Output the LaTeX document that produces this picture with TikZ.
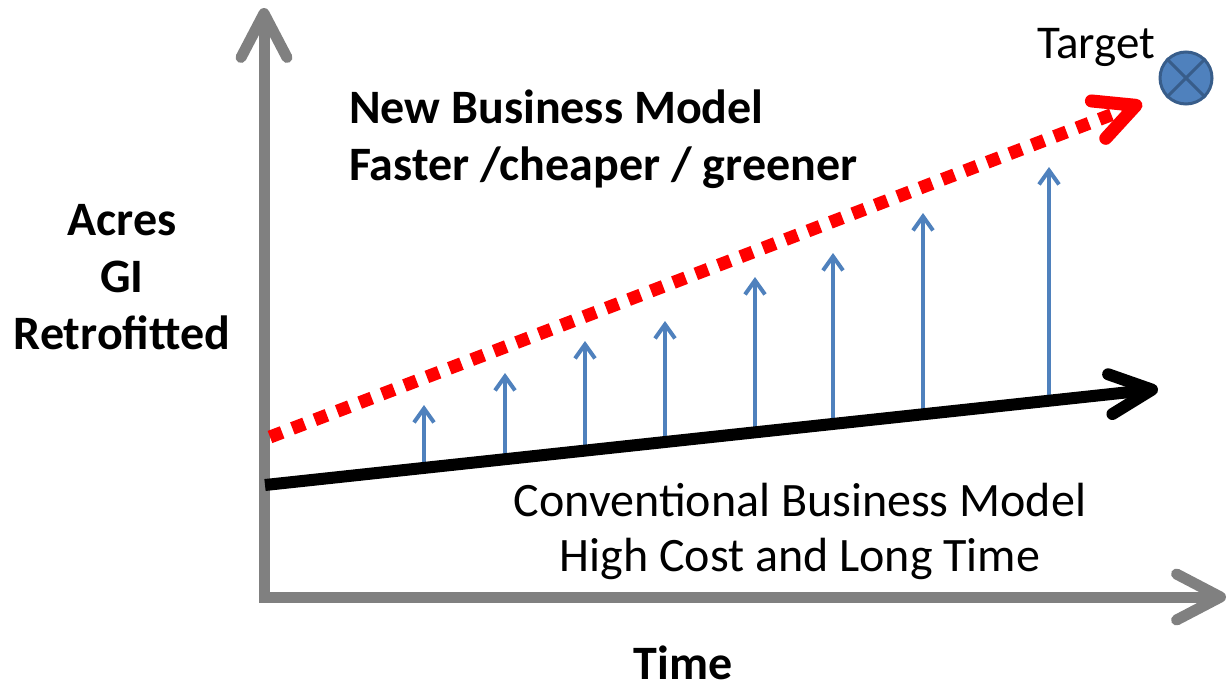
\documentclass[tikz,border=0pt]{standalone}
\usepackage{fontspec}
\setmainfont{Carlito}
\usetikzlibrary{arrows.meta}
\definecolor{axisgray}{RGB}{128,128,128}
\definecolor{bluearrow}{RGB}{79,129,189}
\definecolor{targetedge}{RGB}{56,93,138}
\definecolor{redline}{RGB}{255,0,0}
\tikzset{
  axisline/.style={draw=axisgray, line width=11pt,
    {Straight Barb[length=44pt,width=46pt,round]}-{Straight Barb[length=44pt,width=46pt,round]}},
  convline/.style={draw=black, line width=12pt,
    -{Straight Barb[length=42pt,width=40pt,round]}},
  newline/.style={draw=redline, line width=13pt, dash pattern=on 13pt off 11pt,
    -{Straight Barb[length=40pt,width=40pt,round]}},
  growarrow/.style={draw=bluearrow, line width=4pt,
    -{Straight Barb[length=14pt,width=20pt]}},
  boldlabel/.style={font=\fontsize{48}{57}\selectfont\bfseries, inner sep=0pt},
  plainlabel/.style={font=\fontsize{48}{55}\selectfont, inner sep=0pt},
}
\begin{document}
\begin{tikzpicture}[x=1pt, y=-1pt]
\useasboundingbox (0,0) rectangle (1228,686);
% axes
\coordinate (ytop) at (264,8);
\coordinate (orig) at (264,597);
\coordinate (xend) at (1226,597);
\draw[axisline] (ytop) -- (orig) -- (xend);
% growth arrows
\foreach \x/\t in {424/405, 505/373, 585/341, 665/321, 755/277, 833/253, 923/213, 1049/167}{
  \pgfmathsetmacro{\b}{485-0.1073*(\x-265)}
  \draw[growarrow] (\x,\b) -- (\x,\t);
}
% conventional line
\coordinate (c0) at (265,485);
\coordinate (c1) at (1158,389);
\draw[convline] (c0) -- (c1);
% new line
\coordinate (n0) at (270,437);
\coordinate (n1) at (1142,103);
\draw[newline] (n0) -- (n1);
% target
\node[circle, minimum size=52pt, inner sep=0pt, fill=bluearrow, draw=targetedge, line width=3pt] (target) at (1186,78) {};
\draw[targetedge, line width=3pt] (target.north west) -- (target.south east);
\draw[targetedge, line width=3pt] (target.north east) -- (target.south west);
% labels
\node[plainlabel, font=\fontsize{47}{55}\selectfont, anchor=base west] (tlabel) at (1037,58) {Target};
\node[boldlabel, anchor=base west, align=left] (newlabel) at (349,180) {New Business Model\\Faster /cheaper / greener};
\node[boldlabel, anchor=base, align=center] (ylabel) at (122,349) {Acres\\GI\\Retrofitted};
\node[plainlabel, anchor=base, align=center] (convlabel) at (800,571) {Conventional Business Model\\High Cost and Long Time};
\node[boldlabel, anchor=base] (xlabel) at (683,679) {Time};
\end{tikzpicture}
\end{document}
